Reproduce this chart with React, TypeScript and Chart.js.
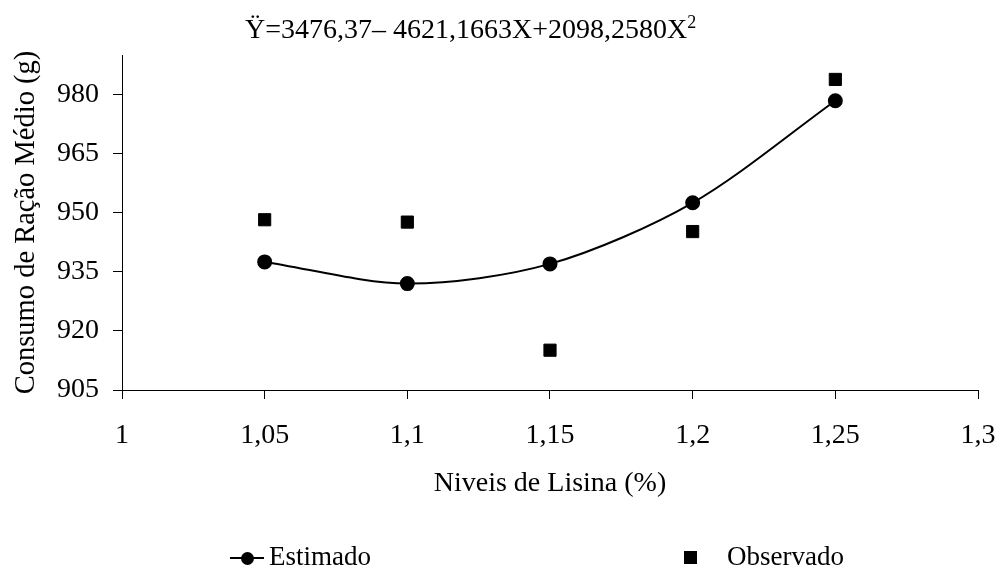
import React, { useEffect, useRef } from "react";
import { Chart, registerables } from "chart.js";

Chart.register(...registerables);

const levels = [1.05, 1.1, 1.15, 1.2, 1.25];
const estimated = [937.5, 932.0, 937.0, 952.5, 978.4];
const observed = [948.2, 947.6, 915.1, 945.2, 983.8];
const xTickValues = [1, 1.05, 1.1, 1.15, 1.2, 1.25, 1.3];
const xTickLabels = ["1", "1,05", "1,1", "1,15", "1,2", "1,25", "1,3"];
const yTickValues = [905, 920, 935, 950, 965, 980];

const FONT = "'Liberation Serif', 'Times New Roman', serif";

export default function App() {
  const ref = useRef<HTMLCanvasElement | null>(null);
  useEffect(() => {
    if (!ref.current) return;
    const chart = new Chart(ref.current, {
      type: "scatter",
      data: {
        datasets: [
          {
            label: "Estimado",
            data: levels.map((x, i) => ({ x, y: estimated[i] })),
            showLine: true,
            borderColor: "#000",
            backgroundColor: "#000",
            borderWidth: 2,
            tension: 0.3,
            pointStyle: "circle",
            pointRadius: 6.5,
            pointBackgroundColor: "#000",
            pointBorderColor: "#000",
          },
          {
            label: "Observado",
            data: levels.map((x, i) => ({ x, y: observed[i] })),
            showLine: false,
            pointStyle: "rect",
            pointRadius: 8.6,
            pointBackgroundColor: "#000",
            pointBorderColor: "#000",
            borderColor: "#000",
            backgroundColor: "#000",
          },
        ],
      },
      options: {
        responsive: false,
        animation: false,
        layout: { padding: { top: 55, right: 22, bottom: 61, left: 0 } },
        plugins: { legend: { display: false }, tooltip: { enabled: false }, title: { display: false } },
        scales: {
          x: {
            type: "linear",
            min: 1,
            max: 1.3,
            afterBuildTicks: (s: any) => {
              s.ticks = xTickValues.map((v) => ({ value: v }));
            },
            afterFit: (s: any) => {
              s.height = 120;
              s.paddingLeft = 0;
              s.paddingRight = 0;
            },
            ticks: {
              color: "#000",
              padding: 20,
              maxRotation: 0,
              autoSkip: false,
              font: { family: FONT, size: 28 },
              callback: (_v: any, i: number) => xTickLabels[i],
            },
            grid: { display: true, drawOnChartArea: false, drawTicks: true, tickLength: 9, color: "#000", lineWidth: 1 },
            border: { display: true, color: "#000", width: 1 },
            title: {
              display: true,
              text: "Niveis de Lisina (%)",
              color: "#000",
              font: { family: FONT, size: 28 },
              padding: { top: 0, bottom: 10 },
            },
          },
          y: {
            type: "linear",
            min: 905,
            max: 990,
            afterBuildTicks: (s: any) => {
              s.ticks = yTickValues.map((v) => ({ value: v }));
            },
            afterFit: (s: any) => {
              s.width = 122;
              s.paddingTop = 0;
              s.paddingBottom = 0;
            },
            ticks: {
              color: "#000",
              padding: 14,
              font: { family: FONT, size: 28 },
            },
            grid: { display: true, drawOnChartArea: false, drawTicks: true, tickLength: 9, color: "#000", lineWidth: 1 },
            border: { display: true, color: "#000", width: 1 },
            title: {
              display: true,
              text: "Consumo de Ração Médio (g)",
              color: "#000",
              font: { family: FONT, size: 28.5 },
              padding: { top: 9, bottom: 0 },
            },
          },
        },
      },
    });
    return () => chart.destroy();
  }, []);

  const textStyle: React.CSSProperties = {
    position: "absolute",
    fontFamily: FONT,
    fontSize: 27,
    color: "#000",
    lineHeight: "30px",
    whiteSpace: "nowrap",
  };

  return (
    <div style={{ position: "fixed", left: 0, top: 0, width: 1000, height: 571, background: "#fff" }}>
      <canvas ref={ref} width={1000} height={571} style={{ position: "absolute", left: 0, top: 0 }} />
      <div style={{ ...textStyle, fontSize: 28, lineHeight: "32px", left: 245, top: 13 }}>
        Ÿ=3476,37– 4621,1663X+2098,2580X<sup style={{ fontSize: 18, verticalAlign: "10px", lineHeight: 0 }}>2</sup>
      </div>
      <div style={{ position: "absolute", left: 230, top: 557, width: 34, height: 2, background: "#000" }} />
      <div style={{ position: "absolute", left: 240.5, top: 551.5, width: 13, height: 13, borderRadius: 7, background: "#000" }} />
      <div style={{ ...textStyle, left: 269, top: 541 }}>Estimado</div>
      <div style={{ position: "absolute", left: 684, top: 551, width: 13, height: 13, background: "#000" }} />
      <div style={{ ...textStyle, left: 727, top: 541 }}>Observado</div>
    </div>
  );
}
